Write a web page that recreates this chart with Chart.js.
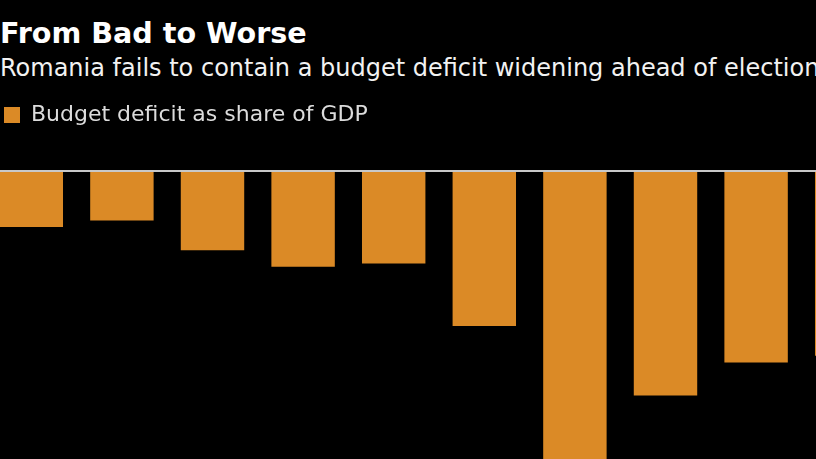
<!DOCTYPE html>
<html>
<head>
<meta charset="utf-8">
<script src="https://cdn.jsdelivr.net/npm/chart.js@4"></script>
<style>
    html, body {
        margin: 0;
        padding: 0;
        background: #000;
        width: 816px;
        height: 459px;
        overflow: hidden;
        position: relative;
    }
    .title {
        position: absolute;
        left: 0;
        top: 19px;
        font-family: 'DejaVu Sans', sans-serif;
        font-weight: bold;
        font-size: 28.6px;
        line-height: 28px;
        color: #fff;
        white-space: nowrap;
    }
    .subtitle {
        position: absolute;
        left: 0;
        top: 56px;
        font-family: 'DejaVu Sans', sans-serif;
        font-size: 24px;
        line-height: 24px;
        color: #f2f2f2;
        white-space: nowrap;
    }
    #chartBox {
        position: absolute;
        left: -14px;
        top: 86px;
        width: 906px;
        height: 415px;
    }
</style>
</head>
<body>
<div class="title">From Bad to Worse</div>
<div class="subtitle">Romania fails to contain a budget deficit widening ahead of elections</div>
<div id="chartBox"><canvas id="myBarChart"></canvas></div>

<script>
// years (axis labels fall below the cropped picture)
const labels = ['2014', '2015', '2016', '2017', '2018', '2019', '2020', '2021', '2022', '2023'];
// budget balance, % of GDP
const deficit = [-1.7, -1.5, -2.4, -2.9, -2.8, -4.7, -9.8, -6.8, -5.8, -5.6];
const seriesName = 'Budget deficit as share of GDP';

let ctx = document.getElementById('myBarChart').getContext('2d');
let chart = new Chart(ctx, {
    type: 'bar',
    data: {
        labels: labels,
        datasets: [
            {
                label: seriesName,
                data: deficit,
                backgroundColor: '#db8a26',
                borderWidth: 0,
                barPercentage: 0.7,
                categoryPercentage: 1
            }
        ]
    },
    options: {
        responsive: true,
        maintainAspectRatio: false,
        devicePixelRatio: 1,
        animation: false,
        layout: { padding: 0 },
        plugins: {
            tooltip: { enabled: false },
            legend: {
                position: 'top',
                align: 'start',
                labels: {
                    boxWidth: 16,
                    boxHeight: 16,
                    padding: 18,
                    color: '#dcdcdc',
                    font: { family: 'DejaVu Sans', size: 22 }
                }
            }
        },
        scales: {
            x: { display: false },
            y: {
                min: -10,
                max: 1.06,
                ticks: { display: false, stepSize: 1 },
                border: { display: false },
                grid: {
                    drawTicks: false,
                    lineWidth: 2,
                    // only the zero line shows
                    color: (c) => c.tick && c.tick.value === 0 ? '#c8c8c8' : 'transparent'
                }
            }
        }
    }
});
</script>
</body>
</html>
